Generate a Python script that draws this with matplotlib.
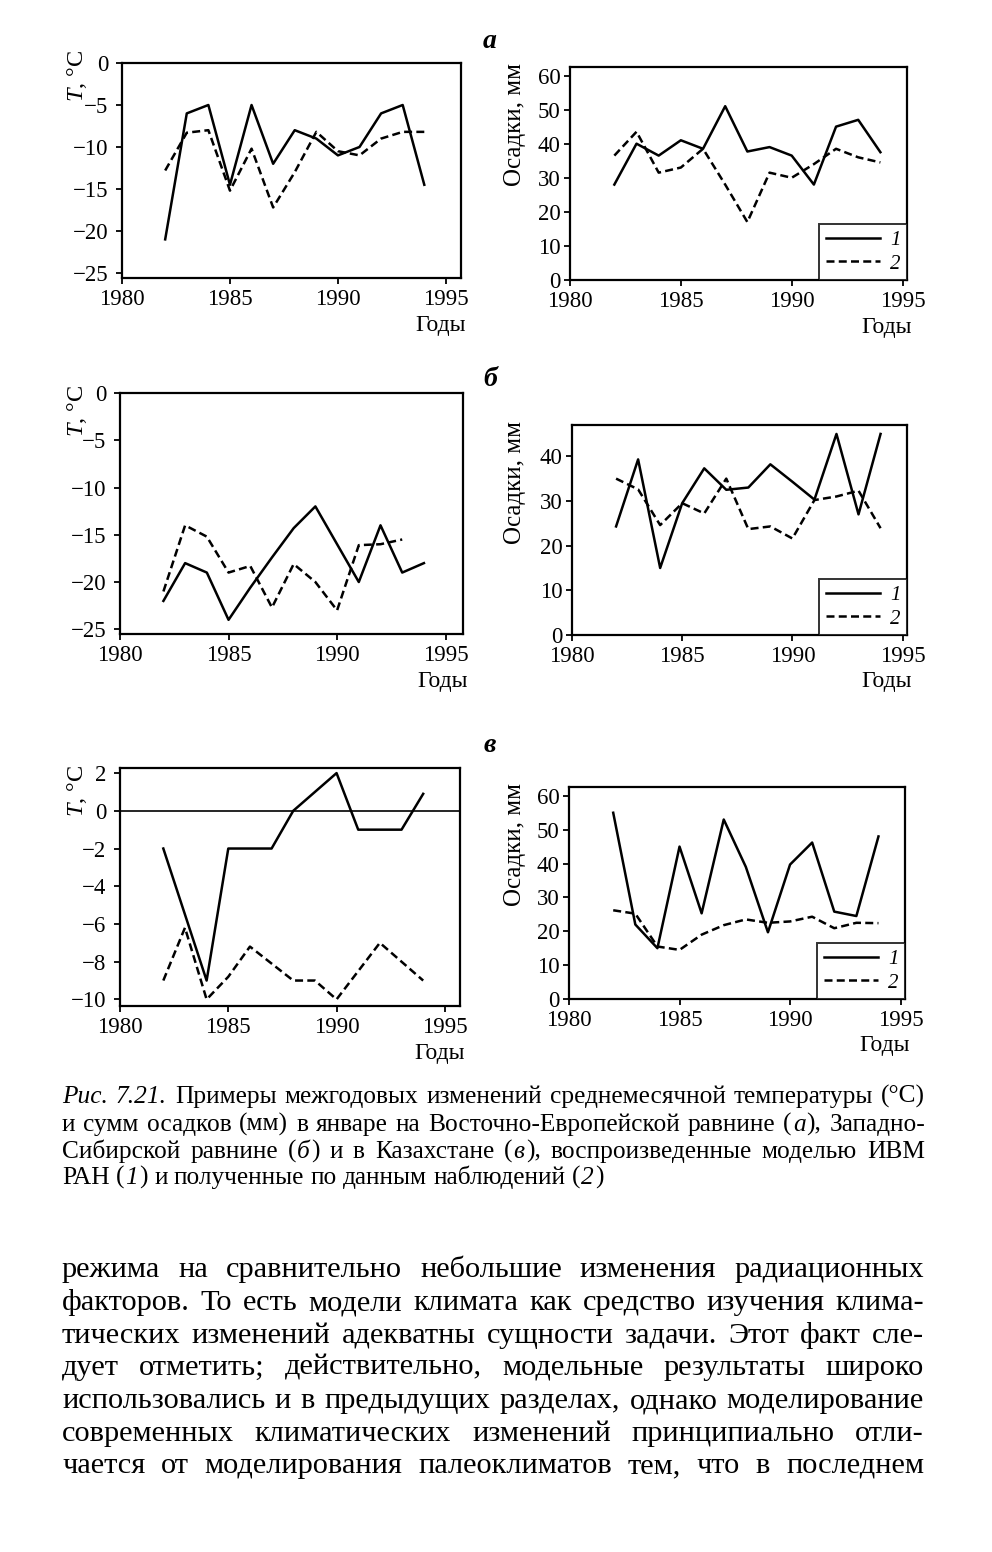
import matplotlib
matplotlib.use('Agg')
import matplotlib.pyplot as plt
from matplotlib.lines import Line2D

plt.rcParams['font.family'] = ['Liberation Serif', 'DejaVu Serif']
plt.rcParams['mathtext.fontset'] = 'custom'
plt.rcParams['mathtext.rm'] = 'Liberation Serif'
plt.rcParams['mathtext.it'] = 'Liberation Serif:italic'
plt.rcParams['axes.unicode_minus'] = True


# data
# ================================

years = list(range(1982, 1995))
years_b_obs = list(range(1982, 1994))

# а -- East European plain
t_a_model = [-21, -6, -5, -14.5, -5, -12, -8, -9, -11, -10, -6, -5, -14.5]
t_a_obs = [-12.8, -8.3, -8, -15.2, -10.2, -17.2, -13, -8.2, -10.5, -11, -9, -8.2, -8.2]
p_a_model = [28, 40, 36.5, 41, 38.5, 51, 37.7, 39, 36.5, 28, 45, 47, 37.5]
p_a_obs = [36.5, 43.5, 31.5, 33, 38.5, 28, 17, 31.5, 30, 34, 38.5, 36, 34.5]

# б -- West Siberian plain
t_b_model = [-22, -18, -19, -24, -20.6, -17.4, -14.3, -12, -16, -20, -14, -19, -18]
t_b_obs = [-21, -14, -15.2, -19, -18.3, -22.7, -18.1, -20, -23, -16.1, -16, -15.5]
p_b_model = [24.3, 39.3, 15, 29.5, 37.3, 32.5, 33, 38.2, 34.3, 30.3, 45, 27, 45]
p_b_obs = [35, 32.6, 24.6, 29.5, 27.2, 35, 23.7, 24.3, 21.6, 30.2, 31, 32.3, 23.9]

# в -- Kazakhstan
t_c_model = [-2, -5.5, -9, -2, -2, -2, 0, 1, 2, -1, -1, -1, 0.9]
t_c_obs = [-9, -6.2, -10, -8.8, -7.2, -8.1, -9, -9, -10, -8.5, -7, -8, -9]
p_c_model = [55, 22, 15, 45, 25.3, 53, 39, 19.7, 39.7, 46.2, 25.8, 24.5, 48]
p_c_obs = [26.2, 25.2, 15.5, 14.5, 19, 21.8, 23.5, 22.5, 22.9, 24.3, 20.9, 22.5, 22.4]

xticks = [1980, 1985, 1990, 1995]
t_ticks_ab = [0, -5, -10, -15, -20, -25]
t_ticks_c = [2, 0, -2, -4, -6, -8, -10]
p_ticks = [0, 10, 20, 30, 40, 50, 60]
p_ticks_b = [0, 10, 20, 30, 40]
legend_labels = ['1', '2']
panel_letters = ['а', 'б', 'в']

caption = [
    '*Рис. 7.21.* Примеры межгодовых изменений среднемесячной температуры (°C)',
    'и сумм осадков (мм) в январе на Восточно-Европейской равнине (*а*), Западно-',
    'Сибирской равнине (*б*) и в Казахстане (*в*), воспроизведенные моделью ИВМ',
    'РАН (*1*) и полученные по данным наблюдений (*2*)',
]

body = [
    'режима на сравнительно небольшие изменения радиационных',
    'факторов. То есть модели климата как средство изучения клима-',
    'тических изменений адекватны сущности задачи. Этот факт сле-',
    'дует отметить; действительно, модельные результаты широко',
    'использовались и в предыдущих разделах, однако моделирование',
    'современных климатических изменений принципиально отли-',
    'чается от моделирования палеоклиматов тем, что в последнем',
]


# figure
# ======

W, H = 992, 1552
fig = plt.figure(figsize=(W / 100, H / 100), dpi=100)
fig.patch.set_facecolor('white')
renderer = fig.canvas.get_renderer()

LW = 1.8
DASH = (3.2, 1.7)


def box(x0, y0, x1, y1):
    # pixel box (top-left origin) -> figure fraction rect
    return [x0 / W, 1 - y1 / H, (x1 - x0) / W, (y1 - y0) / H]


def panel(rect, xmax, ylim, yticks, model, obs, obs_years, legend=False,
          zero=False, ypad=6):
    ax = fig.add_axes(rect)
    ax.plot(years, model, color='k', lw=LW)
    ax.plot(obs_years, obs, color='k', lw=LW, dashes=DASH)
    if zero:
        ax.axhline(0, color='k', lw=1.2)
    ax.set_xlim(1980, xmax)
    ax.set_ylim(*ylim)
    ax.set_xticks(xticks)
    ax.set_yticks(yticks)
    for s in ax.spines.values():
        s.set_linewidth(1.6)
    ax.tick_params(axis='both', direction='out', length=4, width=1.3,
                   labelsize=16.5)
    ax.tick_params(axis='x', pad=4)
    ax.tick_params(axis='y', pad=ypad)
    ax.annotate('Годы', xy=(1, 0), xycoords='axes fraction',
                xytext=(5, -47), textcoords='offset pixels',
                ha='right', va='center', fontsize=17)
    if legend:
        handles = [Line2D([], [], color='k', lw=LW),
                   Line2D([], [], color='k', lw=LW, dashes=DASH)]
        leg = ax.legend(handles, legend_labels, loc='lower right',
                        borderaxespad=0, fancybox=False, handlelength=2.6,
                        handletextpad=0.5, labelspacing=0.2, borderpad=0.3,
                        prop={'style': 'italic', 'size': 15})
        leg.get_frame().set_edgecolor('k')
        leg.get_frame().set_linewidth(1.4)
    return ax


# а
panel(box(122, 63, 461, 278), 1995.7, (-25.6, 0), t_ticks_ab,
      t_a_model, t_a_obs, years)
panel(box(570, 67, 907, 280), 1995.2, (0, 62.5), p_ticks,
      p_a_model, p_a_obs, years, legend=True, ypad=3)
# б
panel(box(120, 393, 463, 634), 1995.8, (-25.5, 0), t_ticks_ab,
      t_b_model, t_b_obs, years_b_obs)
panel(box(572, 425, 907, 635), 1995.2, (0, 47), p_ticks_b,
      p_b_model, p_b_obs, years, legend=True, ypad=3)
# в
panel(box(120, 768, 460, 1006), 1995.7, (-10.35, 2.27), t_ticks_c,
      t_c_model, t_c_obs, years, zero=True)
panel(box(569, 787, 905, 999), 1995.2, (0, 62.6), p_ticks,
      p_c_model, p_c_obs, years, legend=True, ypad=3)

# panel letters and axis titles
for letter, y in zip(panel_letters, [42, 380, 745]):
    fig.text(490 / W, 1 - y / H, letter, fontsize=20, weight='bold',
             style='italic', ha='center', va='center')

for y in [50, 385, 765]:
    fig.text(77 / W, 1 - y / H, r'$T$, °C', fontsize=17.5, rotation=90,
             ha='center', va='top')

for y in [125, 483, 845]:
    fig.text(515 / W, 1 - y / H, 'Осадки, мм', fontsize=18, rotation=90,
             ha='center', va='center')


# justified text blocks
# =====================

def text_width(s, size, style='normal'):
    t = fig.text(0, 0, s, fontsize=size, style=style)
    w = t.get_window_extent(renderer=renderer).width
    t.remove()
    return w


def parse(line):
    words = []
    italic = False
    for w in line.split(' '):
        segs = []
        for i, p in enumerate(w.split('*')):
            if i > 0:
                italic = not italic
            if p:
                segs.append((p, 'italic' if italic else 'normal'))
        words.append(segs)
    return words


def word_width(word, size):
    return sum(text_width(s, size, st) for s, st in word) + 1.0 * (len(word) - 1)


def text_block(lines, x0, x1, baselines, justify_last=True):
    parsed = [parse(l) for l in lines]
    ref = 10
    sp = 0.25 * ref * 100 / 72
    nat = []
    for i, ws in enumerate(parsed):
        if i == len(parsed) - 1 and not justify_last:
            continue
        nat.append(sum(word_width(w, ref) for w in ws) + sp * (len(ws) - 1))
    size = ref * (x1 - x0) / max(nat) * 0.99
    for i, (ws, yb) in enumerate(zip(parsed, baselines)):
        widths = [word_width(w, size) for w in ws]
        if i == len(parsed) - 1 and not justify_last:
            gap = 0.25 * size * 100 / 72
        else:
            gap = (x1 - x0 - sum(widths)) / (len(ws) - 1)
        x = x0
        for w, ww in zip(ws, widths):
            xs = x
            for s, st in w:
                fig.text(xs / W, 1 - yb / H, s, fontsize=size, style=st,
                         ha='left', va='baseline')
                xs += text_width(s, size, st) + 1.0
            x += ww + gap


text_block(caption, 62, 925, [1103, 1131, 1158, 1184], justify_last=False)
text_block(body, 62, 924, [1277, 1310, 1343, 1375, 1408, 1441, 1473])

fig.savefig('out.png', dpi=100, facecolor='white')
